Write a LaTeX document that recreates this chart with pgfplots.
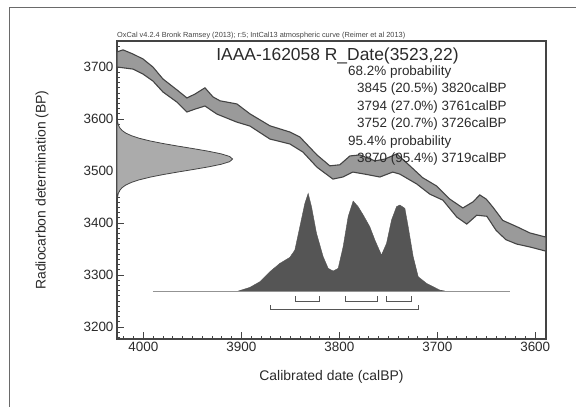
\documentclass[border=0pt]{standalone}
\usepackage{pgfplots}
\pgfplotsset{compat=1.18}
\usepackage{fontspec}
\setmainfont{Liberation Sans}
\usetikzlibrary{calc}
\definecolor{txt}{HTML}{2A2A2A}
\definecolor{axc}{HTML}{444444}
\definecolor{band}{HTML}{9A9A9A}
\definecolor{lgau}{HTML}{ABABAB}
\definecolor{dist}{HTML}{555555}
\definecolor{frm}{HTML}{6A6A6A}
\begin{document}
\begin{tikzpicture}
\begin{axis}[
  scale only axis, width=429bp, height=298bp,
  x dir=reverse, xmin=3589, xmax=4027, ymin=3177, ymax=3750,
  xtick={3600,3700,...,4000}, ytick={3200,3300,...,3700},
  minor xtick={3590,3600,...,4020}, minor ytick={3180,3190,...,3740},
  tick align=inside, tick pos=left,
  major tick length=7bp, minor tick length=3.5bp,
  axis line style={axc, line width=1.3bp},
  every tick/.style={axc, line width=0.8bp},
  ticklabel style={font=\fontsize{13.5}{16}\selectfont, text=txt},
  /pgf/number format/assume math mode=true,
  /pgf/number format/1000 sep={},
  xlabel={Calibrated date (calBP)},
  ylabel={Radiocarbon determination (BP)},
  every axis x label/.style={at={(axis description cs:0.5,-0.1275)}, anchor=center, font=\fontsize{14}{16}\selectfont, text=txt},
  every axis y label/.style={at={(axis description cs:-0.1748,0.5)}, anchor=center, rotate=90, font=\fontsize{14}{16}\selectfont, text=txt},
  clip=false,
]
% calibration curve band (upper edge left->right, lower edge right->left)
\addplot[fill=band, draw=axc, line width=1.1bp] coordinates {
(4027,3729) (4020.9,3733) (4010.7,3725) (4000.5,3715.5) (3990.3,3700)
(3980.1,3677) (3965.8,3656) (3955.6,3640.5) (3947.4,3648) (3937.2,3660)
(3929.0,3642.5) (3921.8,3635) (3904.6,3629) (3891.3,3610) (3870.9,3587)
(3850.5,3575) (3840.3,3565.5) (3822.9,3531) (3809.7,3510) (3799.5,3512)
(3789.2,3529) (3779.0,3531) (3763.7,3519.5) (3753.5,3523) (3741.3,3533)
(3728.0,3510) (3714.8,3487) (3700.5,3471) (3687.2,3446) (3673.9,3429)
(3663.7,3440.5) (3656.6,3454) (3650,3446) (3643,3430) (3633.1,3405) (3618.8,3393)
(3605.5,3381) (3589.2,3373)
(3589.2,3346) (3605.5,3354) (3618.8,3359.5) (3630,3368) (3640,3386) (3649.4,3413)
(3659.7,3415) (3669.9,3398) (3680.1,3411.5) (3694.3,3444) (3707.6,3455.5)
(3720.9,3475) (3738.2,3494) (3745.4,3498) (3758.6,3488.5) (3773.9,3494)
(3786.2,3498) (3796.4,3488.5) (3806.6,3484.5) (3822.9,3507.5) (3837.2,3536.5)
(3850.5,3552) (3870.9,3561.5) (3891.3,3586.5) (3904.6,3594) (3925.0,3609.5)
(3937.2,3625) (3947.4,3619) (3955.6,3613.5) (3965.8,3632.5) (3980.1,3652)
(3990.3,3673) (4000.5,3686.5) (4010.7,3696) (4027,3700)
} --cycle;
% radiocarbon determination 3523 +/- 22
\addplot[fill=lgau, draw=axc, line width=0.8bp] coordinates {
(4027,3448) (4026.65,3448) (4025.7,3457) (4024.1,3463) (4021.8,3468) (4018.1,3473)
(4012.4,3478) (4004.4,3483) (3993.7,3488) (3980.4,3493) (3965.1,3498)
(3948.9,3503) (3933.5,3508) (3920.6,3513) (3912,3518) (3909,3523)
(3912,3528) (3920.6,3533) (3933.5,3538) (3948.9,3543) (3965.1,3548)
(3980.4,3553) (3993.7,3558) (4004.4,3563) (4012.4,3568) (4018.1,3573)
(4021.8,3578) (4024.1,3583) (4025.7,3589) (4026.65,3598) (4027,3598)
} --cycle;
% calibrated probability distribution
\addplot[fill=dist, draw=dist, line width=0.4bp] coordinates {
(3903.2,3269.2) (3891.3,3276.3) (3881.1,3287.2) (3870.9,3306.4) (3860.7,3322.4)
(3850.5,3334.0) (3845.4,3348.1) (3840.3,3392.9) (3835.2,3437.8) (3831.8,3457.0)
(3828.4,3431.4) (3823.3,3380.1) (3816.5,3335.2) (3811.4,3312.8) (3806.3,3307.7)
(3801.2,3312.8) (3796.1,3354.5) (3791.0,3412.2) (3785.9,3442.3) (3780.8,3431.4)
(3775.6,3415.4) (3768.9,3392.9) (3763.7,3367.3) (3757.0,3338.4) (3751.8,3360.9)
(3746.7,3405.8) (3741.6,3431.4) (3738.2,3434.6) (3733.1,3428.2) (3729.7,3392.9)
(3724.6,3335.2) (3719.5,3296.8) (3711.0,3284.0) (3704.2,3277.6) (3697.4,3271.1)
(3692.3,3269.2)
} --cycle;
% baseline
\addplot[draw=gray!85, line width=0.8bp] coordinates {(3990.3,3269.2) (3626,3269.2)};
% 68.2% ranges
\addplot[draw=dist, line width=0.9bp] coordinates {(3845,3259) (3845,3250) (3820,3250) (3820,3259)};
\addplot[draw=dist, line width=0.9bp] coordinates {(3794,3259) (3794,3250) (3761,3250) (3761,3259)};
\addplot[draw=dist, line width=0.9bp] coordinates {(3752,3259) (3752,3250) (3726,3250) (3726,3259)};
% 95.4% range
\addplot[draw=dist, line width=0.9bp] coordinates {(3870,3242) (3870,3233) (3719,3233) (3719,3242)};
\end{axis}
\begin{scope}[shift={($(current axis.south west)+(-117bp,339bp)$)}, x=1bp, y=-1bp]
\pgfresetboundingbox
\path[use as bounding box] (0,0) rectangle (576,406);
\draw[frm, line width=1.5bp] (9.5,420) -- (9.5,7.5) -- (580,7.5);
\node[anchor=base west, inner sep=0, text=axc, font=\fontsize{7.4}{9}\selectfont] at (117,37.5)
  {OxCal v4.2.4 Bronk Ramsey (2013); r:5; IntCal13 atmospheric curve (Reimer et al 2013)};
\node[anchor=base, inner sep=0, text=txt, font=\fontsize{17.5}{20}\selectfont] at (337.5,60)
  {IAAA-162058 R\_Date(3523,22)};
\begin{scope}[every node/.style={anchor=base west, inner sep=0, text=txt, font=\fontsize{13.5}{16}\selectfont}]
\node at (348,75) {68.2\% probability};
\node at (357,92.5) {3845 (20.5\%) 3820calBP};
\node at (357,110) {3794 (27.0\%) 3761calBP};
\node at (357,127.5) {3752 (20.7\%) 3726calBP};
\node at (348,145) {95.4\% probability};
\node at (357,162.5) {3870 (95.4\%) 3719calBP};
\end{scope}
\end{scope}
\end{tikzpicture}
\end{document}
